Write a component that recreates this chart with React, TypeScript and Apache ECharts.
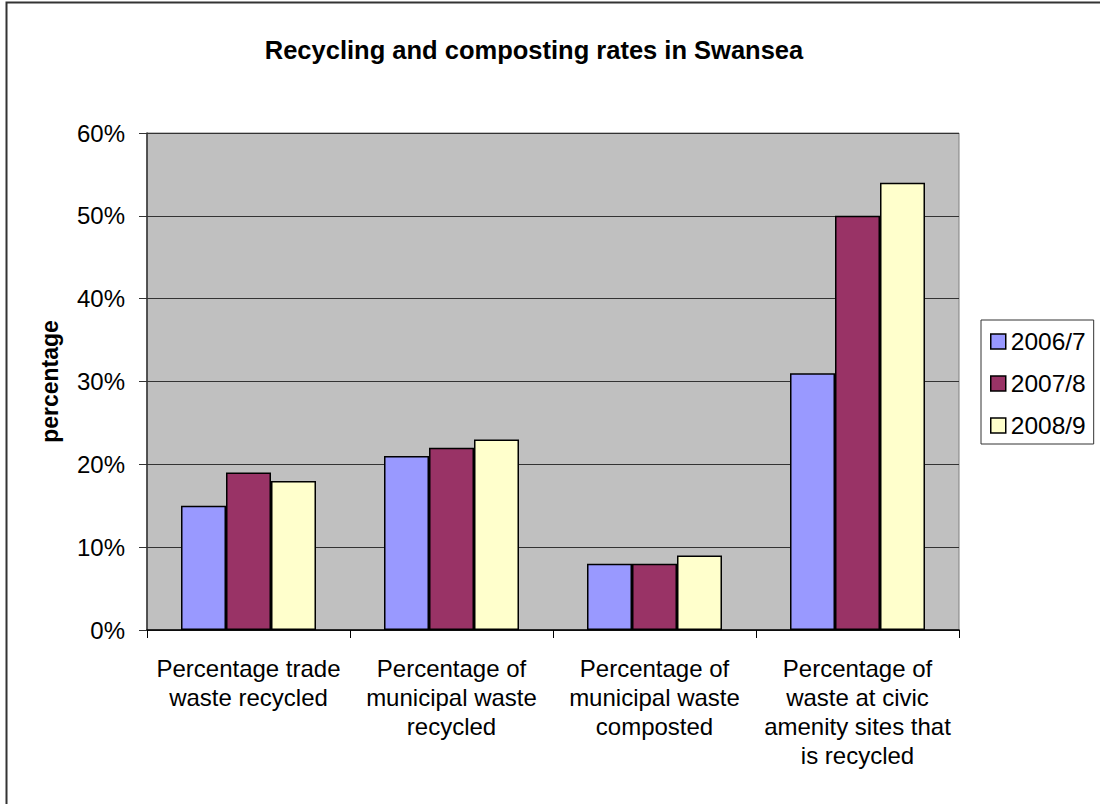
import React, { useEffect, useRef } from "react";
import * as echarts from "echarts";

const categories = [
  "Percentage trade\nwaste recycled",
  "Percentage of\nmunicipal waste\nrecycled",
  "Percentage of\nmunicipal waste\ncomposted",
  "Percentage of\nwaste at civic\namenity sites that\nis recycled",
];
const seriesNames = ["2006/7", "2007/8", "2008/9"];
const values2006 = [15, 21, 8, 31];
const values2007 = [19, 22, 8, 50];
const values2008 = [18, 23, 9, 54];
const colors = ["#9999FF", "#993366", "#FFFFCC"];

const FONT = "'Liberation Sans', Arial, sans-serif";

export default function App() {
  const ref = useRef<HTMLDivElement>(null);
  useEffect(() => {
    if (!ref.current) return;
    const chart = echarts.init(ref.current, undefined, { renderer: "svg" });
    const data = [values2006, values2007, values2008];
    chart.setOption({
      animation: false,
      backgroundColor: "#ffffff",
      textStyle: { fontFamily: FONT },
      title: {
        text: "Recycling and composting rates in Swansea",
        left: 529,
        top: 32,
        textAlign: "center",
        textStyle: { fontFamily: FONT, fontSize: 25.5, fontWeight: "bold", color: "#000" },
      },
      graphic: [
        {
          type: "rect",
          shape: { x: 6.5, y: 2.5, width: 1200, height: 900 },
          style: { fill: "none", stroke: "#333", lineWidth: 2 },
          silent: true,
        },
      ],
      legend: {
        orient: "vertical",
        left: 981,
        top: 320,
        padding: [9, 8, 6, 9],
        itemWidth: 15,
        itemHeight: 15,
        itemGap: 17,
        icon: "rect",
        borderColor: "#333",
        borderWidth: 1,
        itemStyle: { borderColor: "#000", borderWidth: 1.5 },
        textStyle: { fontFamily: FONT, fontSize: 24.5, color: "#000", lineHeight: 24 },
        data: seriesNames,
      },
      grid: {
        left: 147,
        top: 133,
        right: 141,
        bottom: 174,
        show: true,
        backgroundColor: "#C0C0C0",
        borderColor: "#808080",
        borderWidth: 1,
      },
      xAxis: {
        type: "category",
        data: categories,
        axisLine: { show: true, lineStyle: { color: "#000", width: 1.5 } },
        axisTick: { show: true, length: 8, alignWithLabel: false, lineStyle: { color: "#000" } },
        axisLabel: {
          interval: 0,
          margin: 24,
          fontFamily: FONT,
          fontSize: 24,
          lineHeight: 29,
          color: "#000",
        },
      },
      yAxis: {
        type: "value",
        min: 0,
        max: 60,
        interval: 10,
        name: "percentage",
        nameLocation: "middle",
        nameGap: 86,
        nameTextStyle: { fontFamily: FONT, fontSize: 23, fontWeight: "bold", color: "#000" },
        axisLine: { show: true, lineStyle: { color: "#333", width: 1.5 } },
        axisTick: { show: true, length: 8, lineStyle: { color: "#333" } },
        axisLabel: {
          formatter: "{value}%",
          margin: 22,
          fontFamily: FONT,
          fontSize: 24,
          color: "#000",
        },
        splitLine: { show: true, lineStyle: { color: "#333", width: 1 } },
      },
      series: seriesNames.map((name, i) => ({
        name,
        type: "bar",
        data: data[i],
        barWidth: 45,
        barGap: "0%",
        itemStyle: { color: colors[i], borderColor: "#000", borderWidth: 1.5 },
      })),
    });
    return () => chart.dispose();
  }, []);
  return (
    <div
      ref={ref}
      style={{ position: "fixed", left: 0, top: 0, width: 1100, height: 804 }}
    />
  );
}
